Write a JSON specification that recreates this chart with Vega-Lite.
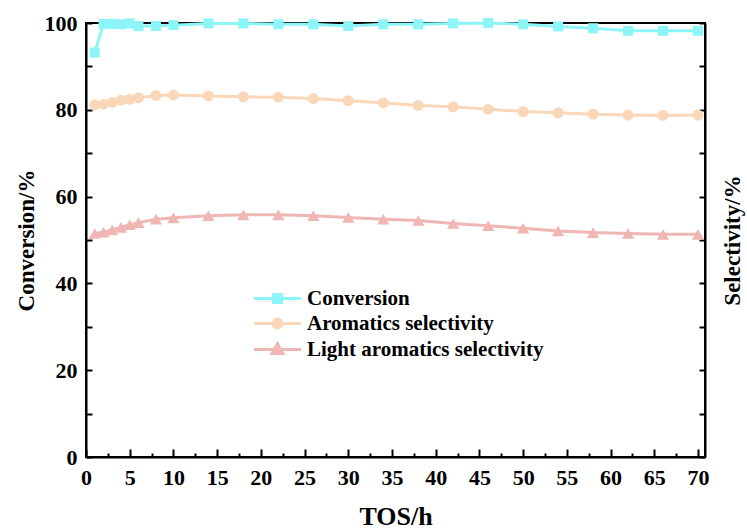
{
  "$schema": "https://vega.github.io/schema/vega-lite/v6.json",
  "width": 619,
  "height": 434,
  "autosize": {"type": "none"},
  "padding": {"left": 86, "top": 23, "right": 42, "bottom": 72},
  "background": "white",
  "config": {
    "view": {"stroke": "black", "strokeWidth": 2},
    "font": "Liberation Serif",
    "axis": {
      "grid": false,
      "domainColor": "black",
      "domainWidth": 2,
      "ticks": true,
      "tickColor": "black",
      "tickWidth": 2,
      "labelFont": "Liberation Serif",
      "labelFontWeight": "bold",
      "labelFontSize": 22,
      "labelColor": "black",
      "labelOverlap": false,
      "labelFlush": false,
      "titleFont": "Liberation Serif",
      "titleFontWeight": "bold",
      "titleFontSize": 23,
      "titleColor": "black"
    }
  },
  "datasets": {
    "d": [
      {"t": 1, "series": "Conversion", "v": 93.2},
      {"t": 2, "series": "Conversion", "v": 99.8},
      {"t": 3, "series": "Conversion", "v": 99.8},
      {"t": 4, "series": "Conversion", "v": 99.7},
      {"t": 5, "series": "Conversion", "v": 99.9},
      {"t": 6, "series": "Conversion", "v": 99.3},
      {"t": 8, "series": "Conversion", "v": 99.3},
      {"t": 10, "series": "Conversion", "v": 99.5},
      {"t": 14, "series": "Conversion", "v": 99.9},
      {"t": 18, "series": "Conversion", "v": 99.9},
      {"t": 22, "series": "Conversion", "v": 99.7},
      {"t": 26, "series": "Conversion", "v": 99.7},
      {"t": 30, "series": "Conversion", "v": 99.3},
      {"t": 34, "series": "Conversion", "v": 99.7},
      {"t": 38, "series": "Conversion", "v": 99.7},
      {"t": 42, "series": "Conversion", "v": 99.9},
      {"t": 46, "series": "Conversion", "v": 100},
      {"t": 50, "series": "Conversion", "v": 99.7},
      {"t": 54, "series": "Conversion", "v": 99.2},
      {"t": 58, "series": "Conversion", "v": 98.8},
      {"t": 62, "series": "Conversion", "v": 98.2},
      {"t": 66, "series": "Conversion", "v": 98.2},
      {"t": 70, "series": "Conversion", "v": 98.2},
      {"t": 1, "series": "Aromatics selectivity", "v": 81.1},
      {"t": 2, "series": "Aromatics selectivity", "v": 81.3},
      {"t": 3, "series": "Aromatics selectivity", "v": 81.7},
      {"t": 4, "series": "Aromatics selectivity", "v": 82.2},
      {"t": 5, "series": "Aromatics selectivity", "v": 82.4},
      {"t": 6, "series": "Aromatics selectivity", "v": 82.8},
      {"t": 8, "series": "Aromatics selectivity", "v": 83.3},
      {"t": 10, "series": "Aromatics selectivity", "v": 83.4},
      {"t": 14, "series": "Aromatics selectivity", "v": 83.2},
      {"t": 18, "series": "Aromatics selectivity", "v": 83.0},
      {"t": 22, "series": "Aromatics selectivity", "v": 82.9},
      {"t": 26, "series": "Aromatics selectivity", "v": 82.6},
      {"t": 30, "series": "Aromatics selectivity", "v": 82.1},
      {"t": 34, "series": "Aromatics selectivity", "v": 81.6},
      {"t": 38, "series": "Aromatics selectivity", "v": 81.0},
      {"t": 42, "series": "Aromatics selectivity", "v": 80.7},
      {"t": 46, "series": "Aromatics selectivity", "v": 80.1},
      {"t": 50, "series": "Aromatics selectivity", "v": 79.6},
      {"t": 54, "series": "Aromatics selectivity", "v": 79.3},
      {"t": 58, "series": "Aromatics selectivity", "v": 79.0},
      {"t": 62, "series": "Aromatics selectivity", "v": 78.8},
      {"t": 66, "series": "Aromatics selectivity", "v": 78.7},
      {"t": 70, "series": "Aromatics selectivity", "v": 78.8},
      {"t": 1, "series": "Light aromatics selectivity", "v": 51.5},
      {"t": 2, "series": "Light aromatics selectivity", "v": 51.8},
      {"t": 3, "series": "Light aromatics selectivity", "v": 52.3},
      {"t": 4, "series": "Light aromatics selectivity", "v": 52.9},
      {"t": 5, "series": "Light aromatics selectivity", "v": 53.5},
      {"t": 6, "series": "Light aromatics selectivity", "v": 54.0},
      {"t": 8, "series": "Light aromatics selectivity", "v": 54.8},
      {"t": 10, "series": "Light aromatics selectivity", "v": 55.1},
      {"t": 14, "series": "Light aromatics selectivity", "v": 55.6},
      {"t": 18, "series": "Light aromatics selectivity", "v": 55.8},
      {"t": 22, "series": "Light aromatics selectivity", "v": 55.8},
      {"t": 26, "series": "Light aromatics selectivity", "v": 55.6},
      {"t": 30, "series": "Light aromatics selectivity", "v": 55.2},
      {"t": 34, "series": "Light aromatics selectivity", "v": 54.8},
      {"t": 38, "series": "Light aromatics selectivity", "v": 54.5},
      {"t": 42, "series": "Light aromatics selectivity", "v": 53.8},
      {"t": 46, "series": "Light aromatics selectivity", "v": 53.3},
      {"t": 50, "series": "Light aromatics selectivity", "v": 52.7},
      {"t": 54, "series": "Light aromatics selectivity", "v": 52.1},
      {"t": 58, "series": "Light aromatics selectivity", "v": 51.7},
      {"t": 62, "series": "Light aromatics selectivity", "v": 51.5},
      {"t": 66, "series": "Light aromatics selectivity", "v": 51.3},
      {"t": 70, "series": "Light aromatics selectivity", "v": 51.3}
    ]
  },
  "data": {"name": "d"},
  "layer": [
    {
      "transform": [{"filter": "datum.series === 'Conversion'"}],
      "encoding": {
        "x": {
          "field": "t",
          "type": "quantitative",
          "scale": {"domain": [0, 70.8], "nice": false, "zero": false},
          "axis": {
            "orient": "bottom",
            "title": "TOS/h",
            "titleFontSize": 26,
            "values": [0, 5, 10, 15, 20, 25, 30, 35, 40, 45, 50, 55, 60, 65, 70],
            "tickSize": -8,
            "labelPadding": 18,
            "titlePadding": 15
          }
        },
        "y": {
          "field": "v",
          "type": "quantitative",
          "scale": {"domain": [0, 100], "nice": false},
          "axis": {
            "orient": "left",
            "title": "Conversion/%",
            "values": [0, 10, 20, 30, 40, 50, 60, 70, 80, 90, 100],
            "labelExpr": "datum.value % 20 == 0 ? datum.label : ''",
            "tickSize": -6,
            "labelPadding": 15,
            "titlePadding": 6
          }
        }
      },
      "layer": [
        {
          "mark": {"type": "line", "strokeWidth": 3},
          "encoding": {
            "color": {
              "field": "series",
              "type": "nominal",
              "scale": {"domain": ["Conversion", "Aromatics selectivity", "Light aromatics selectivity"], "range": ["#8CF5F7", "#FAD7B8", "#EFB6B4"]},
              "legend": {
                "title": null,
                "orient": "none",
                "legendX": 180,
                "legendY": 264,
                "padding": 0,
                "symbolSize": 400,
                "symbolStrokeWidth": 3,
                "labelFont": "Liberation Serif",
                "labelFontWeight": "bold",
                "labelFontSize": 21,
                "labelColor": "black",
                "labelLimit": 0,
                "labelOffset": 18,
                "rowPadding": 3,
                "encode": {
                  "symbols": {
                    "update": {
                      "shape": {"signal": "datum.value === 'Conversion' ? 'M-2.35,0L2.35,0M-0.4,-0.4L0.4,-0.4L0.4,0.4L-0.4,0.4Z' : (datum.value === 'Aromatics selectivity' ? 'M-2.35,0L2.35,0M-0.45,0A0.45,0.45,0,1,0,0.45,0A0.45,0.45,0,1,0,-0.45,0Z' : 'M-2.35,0L2.35,0M0,-0.58L0.55,0.4L-0.55,0.4Z')"},
                      "fill": {"signal": "scale('color', datum.value)"},
                      "stroke": {"signal": "scale('color', datum.value)"},
                      "strokeWidth": {"value": 3},
                      "opacity": {"value": 1},
                      "fillOpacity": {"value": 1}
                    }
                  }
                }
              }
            }
          }
        },
        {
          "mark": {"type": "point", "shape": "square", "filled": true, "size": 100, "opacity": 1},
          "encoding": {"color": {"field": "series", "type": "nominal", "legend": null}}
        }
      ]
    },
    {
      "transform": [{"filter": "datum.series !== 'Conversion'"}],
      "encoding": {
        "x": {
          "field": "t",
          "type": "quantitative",
          "scale": {"domain": [0, 70.8], "nice": false, "zero": false},
          "axis": {
            "orient": "bottom",
            "title": null,
            "values": [2.5, 7.5, 12.5, 17.5, 22.5, 27.5, 32.5, 37.5, 42.5, 47.5, 52.5, 57.5, 62.5, 67.5],
            "labels": false,
            "domain": false,
            "tickSize": -4
          }
        },
        "y": {
          "field": "v",
          "type": "quantitative",
          "scale": {"domain": [0, 100], "nice": false},
          "axis": {
            "orient": "right",
            "title": "Selectivity/%",
            "values": [0, 10, 20, 30, 40, 50, 60, 70, 80, 90, 100],
            "labels": false,
            "tickSize": -6,
            "titleAngle": 270,
            "titleBaseline": "top",
            "titlePadding": 15
          }
        }
      },
      "layer": [
        {
          "mark": {"type": "line", "strokeWidth": 3},
          "encoding": {"color": {"field": "series", "type": "nominal"}}
        },
        {
          "mark": {"type": "point", "filled": true, "opacity": 1},
          "encoding": {
            "color": {"field": "series", "type": "nominal", "legend": null},
            "shape": {"field": "series", "type": "nominal", "scale": {"domain": ["Aromatics selectivity", "Light aromatics selectivity"], "range": ["circle", "triangle-up"]}, "legend": null},
            "size": {"field": "series", "type": "nominal", "scale": {"domain": ["Aromatics selectivity", "Light aromatics selectivity"], "range": [120, 150]}, "legend": null}
          }
        }
      ]
    }
  ],
  "resolve": {"scale": {"y": "independent"}, "axis": {"x": "independent"}}
}
